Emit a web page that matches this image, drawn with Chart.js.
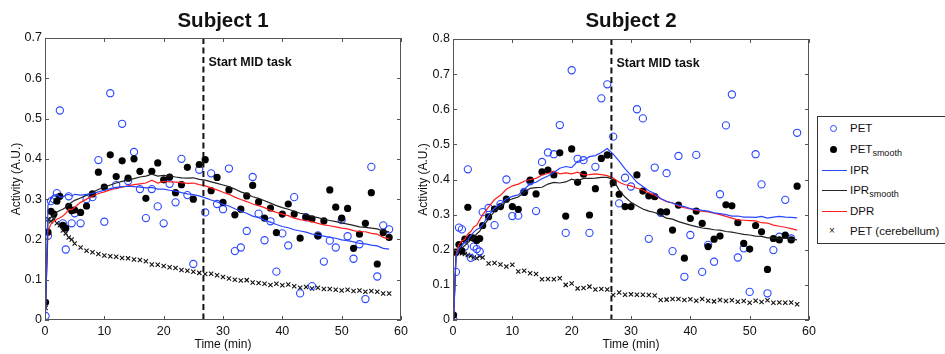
<!DOCTYPE html>
<html>
<head>
<meta charset="utf-8">
<script src="https://cdn.jsdelivr.net/npm/chart.js@4.4.0/dist/chart.umd.min.js"></script>
<style>
  body { margin: 0; background: #fff; }
  #wrap { position: relative; width: 945px; height: 354px; overflow: hidden; font-family: 'Liberation Sans', Arial, sans-serif; }
  canvas { position: absolute; top: 0; }
  #c1 { left: 0; }
  #c2 { left: 412px; }
  #legend { position: absolute; left: 817px; top: 116px; width: 170px; height: 126px; border: 1px solid #333; background: #fff; }
  .row { position: absolute; left: 0; width: 160px; height: 16px; font-size: 11.5px; line-height: 16px; color: #111; }
  .row .txt { position: absolute; left: 32px; top: 0; white-space: nowrap; }
  .row .sub { font-size: 9px; position: relative; top: 3px; }
  .ring { position: absolute; left: 12px; top: 5px; width: 5px; height: 5px; border: 1px solid rgb(40,70,255); border-radius: 50%; }
  .dot { position: absolute; left: 12px; top: 5px; width: 7px; height: 7px; background: #000; border-radius: 50%; }
  .seg { position: absolute; left: 4px; top: 8px; width: 25px; height: 1px; }
  .cross { position: absolute; left: 11px; top: 0; font-size: 10px; }
</style>
</head>
<body>
<div id="wrap">
  <canvas id="c1" width="412" height="354"></canvas>
  <canvas id="c2" width="410" height="354"></canvas>
  <div id="legend">
    <div class="row" style="top:3px"><span class="ring"></span><span class="txt">PET</span></div>
    <div class="row" style="top:24px"><span class="dot"></span><span class="txt">PET<span class="sub">smooth</span></span></div>
    <div class="row" style="top:45px"><span class="seg" style="background:rgb(40,70,255)"></span><span class="txt">IPR</span></div>
    <div class="row" style="top:65px"><span class="seg" style="background:#222"></span><span class="txt">IPR<span class="sub">smooth</span></span></div>
    <div class="row" style="top:86px"><span class="seg" style="background:rgb(255,30,30)"></span><span class="txt">DPR</span></div>
    <div class="row" style="top:106px"><span class="cross">×</span><span class="txt">PET (cerebellum)</span></div>
  </div>
</div>
<script>
// frame mid times (min)
const times = [0.1, 0.5, 1, 1.5, 2, 2.5, 3, 3.5, 4, 4.5, 5,
  6, 7, 8, 9, 10, 11, 12, 13, 14, 15,
  16, 17, 18, 19, 20, 21, 22, 23, 24, 25,
  26, 27, 28, 29, 30, 31, 32, 33, 34, 35,
  36, 37, 38, 39, 40, 41, 42, 43, 44, 45,
  46, 47, 48, 49, 50, 51, 52, 53, 54, 55,
  56, 57, 58];

const titles = ['Subject 1', 'Subject 2'];
const taskLabel = 'Start MID task';
const taskStart = 26.7;
const xTicks = [0, 10, 20, 30, 40, 50, 60];
const s1YTicks = [0, 0.1, 0.2, 0.3, 0.4, 0.5, 0.6, 0.7];
const s2YTicks = [0, 0.1, 0.2, 0.3, 0.4, 0.5, 0.6, 0.7, 0.8];

// Subject 1
const s1Pet = [0.01, 0.209, 0.295, 0.30, 0.315, 0.52, 0.24, 0.175, 0.307, 0.24, 0.265,
  0.24, 0.30, 0.305, 0.397, 0.244, 0.563, 0.335, 0.487, 0.345, 0.417,
  0.325, 0.253, 0.325, 0.282, 0.24, 0.338, 0.292, 0.40, 0.31, 0.139,
  0.373, 0.267, 0.364, 0.288, 0.275, 0.376, 0.171, 0.18, 0.221, 0.355,
  0.264, 0.198, 0.245, 0.12, 0.215, 0.185, 0.305, 0.066, 0.255, 0.084,
  0.21, 0.145, 0.197, 0.18, 0.248, 0.208, 0.152, 0.188, 0.052, 0.38,
  0.108, 0.235, 0.225];
const s1PetSmooth = [0.044, 0.218, 0.27, 0.263, 0.295, 0.307, 0.235, 0.228, 0.282, 0.271, 0.273,
  0.267, 0.283, 0.313, 0.367, 0.33, 0.41, 0.356, 0.395, 0.352, 0.40,
  0.369, 0.302, 0.369, 0.39, 0.348, 0.355, 0.316, 0.336, 0.379, 0.30,
  0.386, 0.398, 0.321, 0.354, 0.292, 0.323, 0.261, 0.275, 0.308, 0.334,
  0.293, 0.253, 0.278, 0.217, 0.263, 0.288, 0.263, 0.203, 0.255, 0.251,
  0.209, 0.246, 0.323, 0.28, 0.253, 0.277, 0.178, 0.213, 0.24, 0.316,
  0.139, 0.217, 0.205];
const s1Ipr = [0.02, 0.285, 0.30, 0.31, 0.312, 0.305, 0.305, 0.31, 0.312, 0.308, 0.312,
  0.31, 0.312, 0.314, 0.318, 0.322, 0.326, 0.329, 0.331, 0.332, 0.331,
  0.33, 0.328, 0.329, 0.325, 0.325, 0.322, 0.32, 0.316, 0.313, 0.311,
  0.308, 0.303, 0.298, 0.293, 0.287, 0.283, 0.276, 0.27, 0.265, 0.258,
  0.254, 0.248, 0.243, 0.237, 0.232, 0.229, 0.224, 0.221, 0.218, 0.213,
  0.211, 0.208, 0.205, 0.203, 0.199, 0.197, 0.194, 0.19, 0.189, 0.186,
  0.184, 0.178, 0.176];
const s1IprSmooth = [0.03, 0.245, 0.255, 0.26, 0.268, 0.272, 0.275, 0.28, 0.287, 0.292, 0.297,
  0.303, 0.31, 0.317, 0.324, 0.33, 0.335, 0.34, 0.344, 0.348, 0.351,
  0.355, 0.357, 0.362, 0.357, 0.359, 0.358, 0.355, 0.353, 0.352, 0.353,
  0.349, 0.347, 0.343, 0.339, 0.335, 0.331, 0.325, 0.318, 0.313, 0.306,
  0.302, 0.296, 0.29, 0.284, 0.279, 0.275, 0.27, 0.265, 0.262, 0.257,
  0.254, 0.25, 0.247, 0.244, 0.241, 0.238, 0.235, 0.231, 0.23, 0.228,
  0.226, 0.221, 0.219];
const s1Dpr = [0.04, 0.22, 0.238, 0.245, 0.25, 0.253, 0.258, 0.265, 0.275, 0.274, 0.28,
  0.292, 0.3, 0.308, 0.314, 0.318, 0.323, 0.327, 0.33, 0.333, 0.336,
  0.338, 0.34, 0.347, 0.34, 0.344, 0.343, 0.342, 0.341, 0.339, 0.34,
  0.336, 0.333, 0.328, 0.323, 0.317, 0.312, 0.305, 0.299, 0.294, 0.288,
  0.284, 0.279, 0.272, 0.267, 0.263, 0.259, 0.253, 0.249, 0.247, 0.244,
  0.24, 0.236, 0.234, 0.231, 0.228, 0.226, 0.222, 0.219, 0.219, 0.215,
  0.213, 0.205, 0.201];
const s1Cereb = [0.03, 0.25, 0.245, 0.25, 0.24, 0.235, 0.222, 0.215, 0.205, 0.2, 0.19,
  0.18, 0.172, 0.168, 0.164, 0.16, 0.158, 0.157, 0.154, 0.153, 0.15,
  0.149, 0.146, 0.138, 0.137, 0.134, 0.131, 0.129, 0.124, 0.122, 0.12,
  0.117, 0.114, 0.115, 0.111, 0.107, 0.103, 0.1, 0.098, 0.099, 0.093,
  0.092, 0.09, 0.087, 0.09, 0.086, 0.088, 0.084, 0.08, 0.082, 0.078,
  0.08, 0.077, 0.077, 0.075, 0.073, 0.075, 0.072, 0.073, 0.07, 0.072,
  0.07, 0.066, 0.066];

// Subject 2
const s2Pet = [0.0, 0.137, 0.263, 0.258, 0.209, 0.429, 0.177, 0.209, 0.202, 0.195, 0.307,
  0.319, 0.27, 0.33, 0.40, 0.296, 0.297, 0.365, 0.395, 0.31, 0.45,
  0.477, 0.472, 0.555, 0.248, 0.711, 0.459, 0.455, 0.248, 0.436, 0.631,
  0.671, 0.522, 0.332, 0.405, 0.38, 0.60, 0.574, 0.231, 0.434, 0.305,
  0.418, 0.196, 0.467, 0.123, 0.242, 0.47, 0.137, 0.214, 0.166, 0.358,
  0.554, 0.642, 0.178, 0.204, 0.08, 0.472, 0.386, 0.076, 0.199, 0.237,
  0.342, 0.232, 0.533];
const s2PetSmooth = [0.014, 0.193, 0.215, 0.197, 0.23, 0.321, 0.235, 0.233, 0.226, 0.232, 0.269,
  0.294, 0.316, 0.323, 0.344, 0.323, 0.315, 0.363, 0.398, 0.359, 0.422,
  0.427, 0.413, 0.476, 0.296, 0.487, 0.392, 0.415, 0.299, 0.374, 0.46,
  0.47, 0.391, 0.358, 0.323, 0.323, 0.413, 0.367, 0.353, 0.351, 0.308,
  0.308, 0.256, 0.327, 0.176, 0.289, 0.31, 0.275, 0.209, 0.23, 0.239,
  0.328, 0.325, 0.277, 0.218, 0.202, 0.269, 0.251, 0.144, 0.232, 0.228,
  0.242, 0.228, 0.381];
const s2Ipr = [0.0, 0.18, 0.205, 0.212, 0.222, 0.228, 0.24, 0.25, 0.258, 0.262, 0.272,
  0.298, 0.318, 0.33, 0.345, 0.352, 0.356, 0.372, 0.388, 0.392, 0.402,
  0.41, 0.42, 0.432, 0.437, 0.434, 0.452, 0.455, 0.465, 0.468, 0.477,
  0.488, 0.472, 0.452, 0.43, 0.412, 0.392, 0.38, 0.368, 0.36, 0.346,
  0.338, 0.333, 0.327, 0.323, 0.317, 0.315, 0.312, 0.31, 0.305, 0.303,
  0.3, 0.296, 0.296, 0.293, 0.293, 0.292, 0.295, 0.29, 0.293, 0.295,
  0.293, 0.292, 0.291];
const s2IprSmooth = [0.005, 0.178, 0.197, 0.205, 0.212, 0.22, 0.228, 0.235, 0.245, 0.253, 0.265,
  0.288, 0.31, 0.322, 0.338, 0.345, 0.35, 0.363, 0.375, 0.377, 0.378,
  0.387, 0.392, 0.39, 0.393, 0.401, 0.396, 0.403, 0.403, 0.404, 0.406,
  0.406, 0.4, 0.37, 0.35, 0.335, 0.325, 0.316, 0.31, 0.306, 0.298,
  0.29, 0.287, 0.28, 0.275, 0.27, 0.266, 0.262, 0.26, 0.257, 0.256,
  0.252, 0.25, 0.247, 0.244, 0.242, 0.239, 0.238, 0.234, 0.234, 0.231,
  0.233, 0.23, 0.228];
const s2Dpr = [0.01, 0.185, 0.215, 0.225, 0.23, 0.245, 0.252, 0.265, 0.27, 0.285, 0.3,
  0.322, 0.343, 0.355, 0.372, 0.382, 0.387, 0.395, 0.4, 0.403, 0.413,
  0.417, 0.424, 0.416, 0.419, 0.416, 0.421, 0.413, 0.414, 0.416, 0.414,
  0.411, 0.404, 0.392, 0.385, 0.382, 0.375, 0.37, 0.362, 0.355, 0.345,
  0.337, 0.333, 0.325, 0.32, 0.316, 0.312, 0.31, 0.308, 0.304, 0.3,
  0.295, 0.29, 0.285, 0.284, 0.283, 0.282, 0.277, 0.276, 0.27, 0.267,
  0.264, 0.26, 0.256];
const s2Cereb = [0.005, 0.19, 0.195, 0.19, 0.188, 0.185, 0.182, 0.178, 0.176, 0.182, 0.178,
  0.161, 0.162, 0.158, 0.152, 0.157, 0.138, 0.14, 0.133, 0.131, 0.116,
  0.117, 0.116, 0.119, 0.1, 0.104, 0.09, 0.091, 0.095, 0.087, 0.088,
  0.087, 0.071, 0.078, 0.072, 0.073, 0.072, 0.072, 0.071, 0.07, 0.057,
  0.058, 0.06, 0.06, 0.057, 0.059, 0.055, 0.06, 0.055, 0.053, 0.057,
  0.054, 0.056, 0.052, 0.054, 0.049, 0.055, 0.051, 0.056, 0.049, 0.05,
  0.049, 0.05, 0.045];

const FONT = "'Liberation Sans', Arial, sans-serif";
const BLUE = 'rgb(40,70,255)';
const RED = 'rgb(255,30,30)';

function pts(vals) {
  return times.map((t, i) => ({ x: t, y: vals[i] }));
}

// box, inward ticks, task line, title
const framePlugin = {
  id: 'frame',
  afterDatasetsDraw(chart, args, opts) {
    const { ctx, chartArea: a, scales: { x, y } } = chart;
    ctx.save();
    const px = x.getPixelForValue(taskStart);
    ctx.strokeStyle = '#111';
    ctx.lineWidth = 2;
    ctx.setLineDash([6, 3.5]);
    ctx.beginPath();
    ctx.moveTo(px, a.top);
    ctx.lineTo(px, a.bottom);
    ctx.stroke();
    ctx.setLineDash([]);

    ctx.strokeStyle = '#555';
    ctx.lineWidth = 1;
    ctx.strokeRect(Math.round(a.left) + 0.5, Math.round(a.top) + 0.5, Math.round(a.width) - 1, Math.round(a.height) - 1);
    ctx.beginPath();
    x.ticks.forEach(t => {
      const p = Math.round(x.getPixelForValue(t.value)) + 0.5;
      ctx.moveTo(p, a.bottom); ctx.lineTo(p, a.bottom - 4);
      ctx.moveTo(p, a.top); ctx.lineTo(p, a.top + 4);
    });
    y.ticks.forEach(t => {
      const p = Math.round(y.getPixelForValue(t.value)) + 0.5;
      ctx.moveTo(a.left, p); ctx.lineTo(a.left + 4, p);
      ctx.moveTo(a.right, p); ctx.lineTo(a.right - 4, p);
    });
    ctx.stroke();

    ctx.fillStyle = '#111';
    ctx.textAlign = 'left';
    ctx.textBaseline = 'alphabetic';
    ctx.font = 'bold 12.5px ' + FONT;
    ctx.fillText(taskLabel, px + 5, a.top + 28);

    ctx.textAlign = 'center';
    ctx.font = 'bold 20.5px ' + FONT;
    ctx.fillText(opts.title, (a.left + a.right) / 2, 27);
    ctx.restore();
  }
};

function makeChart(id, title, yTicks, yMax, pad, yWidth, yTitlePad, d) {
  return new Chart(document.getElementById(id), {
    type: 'scatter',
    data: {
      datasets: [
        { data: pts(d.ipr), showLine: true, borderColor: BLUE, borderWidth: 1.2, pointRadius: 0, order: 1 },
        { data: pts(d.iprSmooth), showLine: true, borderColor: '#222', borderWidth: 1.2, pointRadius: 0, order: 2 },
        { data: pts(d.dpr), showLine: true, borderColor: RED, borderWidth: 1.2, pointRadius: 0, order: 3 },
        { data: pts(d.petSmooth), pointRadius: 3.6, backgroundColor: '#000', borderColor: '#000', borderWidth: 0, order: 4 },
        { data: pts(d.pet), pointRadius: 3.6, backgroundColor: 'rgba(0,0,0,0)', borderColor: BLUE, borderWidth: 1.1, order: 5 },
        { data: pts(d.cereb), pointStyle: 'crossRot', pointRadius: 3, borderColor: '#111', borderWidth: 1.1, order: 6 }
      ]
    },
    options: {
      responsive: false,
      animation: false,
      events: [],
      layout: { padding: pad },
      plugins: { legend: { display: false }, tooltip: { enabled: false }, frame: { title: title } },
      scales: {
        x: {
          type: 'linear', min: 0, max: 60,
          afterBuildTicks: s => { s.ticks = xTicks.map(v => ({ value: v })); },
          afterFit: s => { s.height = 34; },
          grid: { display: false, drawTicks: false },
          border: { display: false },
          ticks: { padding: 4, color: '#111', font: { family: FONT, size: 12.5 } },
          title: { display: true, text: 'Time (min)', color: '#111', padding: { top: 0, bottom: 2 }, font: { family: FONT, size: 12 } }
        },
        y: {
          type: 'linear', min: 0, max: yMax,
          afterBuildTicks: s => { s.ticks = yTicks.map(v => ({ value: v })); },
          afterFit: s => { s.width = yWidth; },
          grid: { display: false, drawTicks: false },
          border: { display: false },
          ticks: { padding: 3, color: '#111', font: { family: FONT, size: 12.5 } },
          title: { display: true, text: 'Activity (A.U.)', color: '#111', padding: { top: yTitlePad, bottom: 0 }, font: { family: FONT, size: 12 } }
        }
      }
    },
    plugins: [framePlugin]
  });
}

makeChart('c1', titles[0], s1YTicks, 0.7, { top: 38, right: 11, left: 0, bottom: 0 }, 45, 9,
  { pet: s1Pet, petSmooth: s1PetSmooth, ipr: s1Ipr, iprSmooth: s1IprSmooth, dpr: s1Dpr, cereb: s1Cereb });
makeChart('c2', titles[1], s2YTicks, 0.8, { top: 39, right: 13, left: 0, bottom: 0 }, 41, 4,
  { pet: s2Pet, petSmooth: s2PetSmooth, ipr: s2Ipr, iprSmooth: s2IprSmooth, dpr: s2Dpr, cereb: s2Cereb });
</script>
</body>
</html>
